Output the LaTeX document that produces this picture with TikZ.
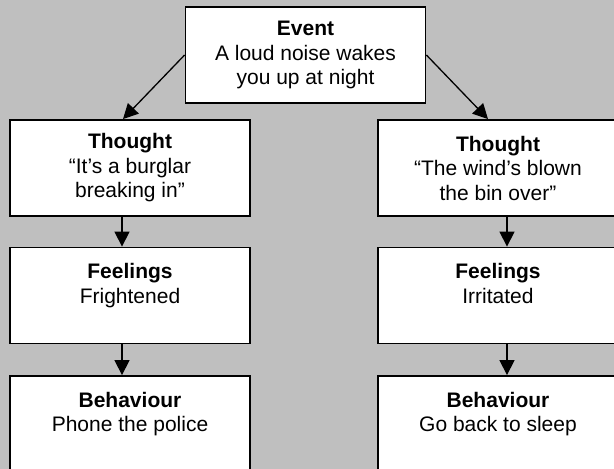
\documentclass[tikz,border=0pt]{standalone}
\usepackage{fontspec}
\setmainfont{Liberation Sans}
\usetikzlibrary{arrows.meta}
\usetikzlibrary{positioning}
\definecolor{bggrey}{rgb}{0.75, 0.75, 0.75}

\tikzset{
  cbox/.style={draw, fill=white, line width=1.8pt, minimum width=240pt,
    minimum height=96pt, inner sep=0pt, align=center,
    font=\fontsize{21pt}{24.5pt}\selectfont},
  flow/.style={line width=1.3pt, -{Triangle[length=15pt,width=15pt]}}
}

\begin{document}
\begin{tikzpicture}[x=1pt, y=-1pt]
      \fill [bggrey] (0, 0) rectangle (614, 469);
      \useasboundingbox (0, 0) rectangle (614, 469);
      \clip (0, 0) rectangle (614, 469);

      \node [cbox] (ev) at (305.5, 55) {\textbf{Event}\\A loud noise wakes\\you up at night};
      \node [cbox] (thl) at (130, 168) {\textbf{Thought}\\“It’s a burglar\\breaking in”};
      \node [cbox] (thr) at (498, 168) {\textbf{Thought}\\“The wind’s blown\\the bin over”};
      \node [cbox] (fel) at (130, 295.5) {\textbf{Feelings}\\Frightened\\~};
      \node [cbox] (fer) at (498, 295.5) {\textbf{Feelings}\\Irritated\\~};
      \node [cbox] (bhl) at (130, 424) {\textbf{Behaviour}\\Phone the police\\~};
      \node [cbox] (bhr) at (498, 424) {\textbf{Behaviour}\\Go back to sleep\\~};

      \draw [flow] (ev.west) -- ([xshift=-7pt]thl.north);
      \draw [flow] (ev.east) -- ([xshift=-10pt]thr.north);
      \draw [flow] ([xshift=-8pt]thl.south) -- ([xshift=-8pt]fel.north);
      \draw [flow] ([xshift=-8pt]fel.south) -- ([xshift=-8pt]bhl.north);
      \draw [flow] ([xshift=9pt]thr.south) -- ([xshift=9pt]fer.north);
      \draw [flow] ([xshift=9pt]fer.south) -- ([xshift=9pt]bhr.north);
    \end{tikzpicture}
\end{document}
